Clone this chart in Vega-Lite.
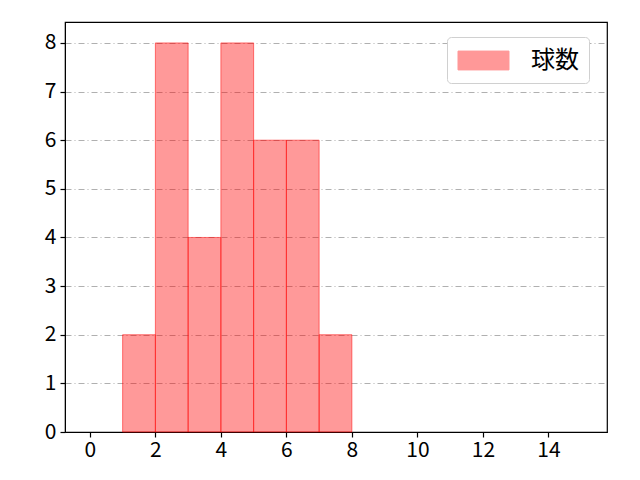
{
  "$schema": "https://vega.github.io/schema/vega-lite/v6.json",
  "width": 542,
  "height": 410,
  "autosize": {"type": "none"},
  "padding": {"left": 65, "top": 22, "right": 33, "bottom": 48},
  "background": "white",
  "config": {
    "view": {"stroke": "black", "strokeWidth": 1.2},
    "font": "Noto Sans CJK JP"
  },
  "data": {
    "values": [
      {"bin_start": 1, "bin_end": 2, "count": 2, "series": "球数"},
      {"bin_start": 2, "bin_end": 3, "count": 8, "series": "球数"},
      {"bin_start": 3, "bin_end": 4, "count": 4, "series": "球数"},
      {"bin_start": 4, "bin_end": 5, "count": 8, "series": "球数"},
      {"bin_start": 5, "bin_end": 6, "count": 6, "series": "球数"},
      {"bin_start": 6, "bin_end": 7, "count": 6, "series": "球数"},
      {"bin_start": 7, "bin_end": 8, "count": 2, "series": "球数"}
    ]
  },
  "mark": {"type": "rect", "fillOpacity": 0.4, "stroke": "#ff0000", "strokeOpacity": 0.5, "strokeWidth": 1},
  "encoding": {
    "x": {
      "field": "bin_start", "type": "quantitative",
      "scale": {"domain": [-0.76, 15.79], "nice": false, "zero": false},
      "axis": {
        "title": null, "values": [0, 2, 4, 6, 8, 10, 12, 14], "grid": false,
        "domainColor": "black", "tickColor": "black", "tickSize": 5, "tickWidth": 1.2,
        "labelFontSize": 21, "labelColor": "black", "labelPadding": 2, "labelFont": "Noto Sans CJK JP"
      }
    },
    "x2": {"field": "bin_end"},
    "y": {
      "field": "count", "type": "quantitative",
      "scale": {"domain": [0, 8.43], "nice": false},
      "axis": {
        "title": null, "values": [0, 1, 2, 3, 4, 5, 6, 7, 8], "grid": true,
        "gridColor": "#b0b0b0", "gridDash": [6, 3, 1, 3], "gridWidth": 1,
        "domainColor": "black", "tickColor": "black", "tickSize": 5, "tickWidth": 1.2,
        "labelFontSize": 21, "labelColor": "black", "labelPadding": 4, "labelFont": "Noto Sans CJK JP"
      }
    },
    "y2": {"datum": 0},
    "color": {
      "field": "series", "type": "nominal",
      "scale": {"range": ["#ff0000"]},
      "legend": {
        "title": null, "orient": "none", "legendX": 382, "legendY": 15,
        "symbolType": "M-2,-0.74H2V0.74H-2Z", "symbolSize": 650, "symbolOffset": 13,
        "symbolFillColor": "#ff0000", "symbolOpacity": 0.4, "symbolStrokeColor": "#ff0000", "symbolStrokeWidth": 1,
        "labelFontSize": 24, "labelColor": "black", "labelFont": "Noto Sans CJK JP", "labelOffset": 34,
        "padding": 10, "strokeColor": "#d0d0d0", "fillColor": "white", "cornerRadius": 4
      }
    }
  }
}
